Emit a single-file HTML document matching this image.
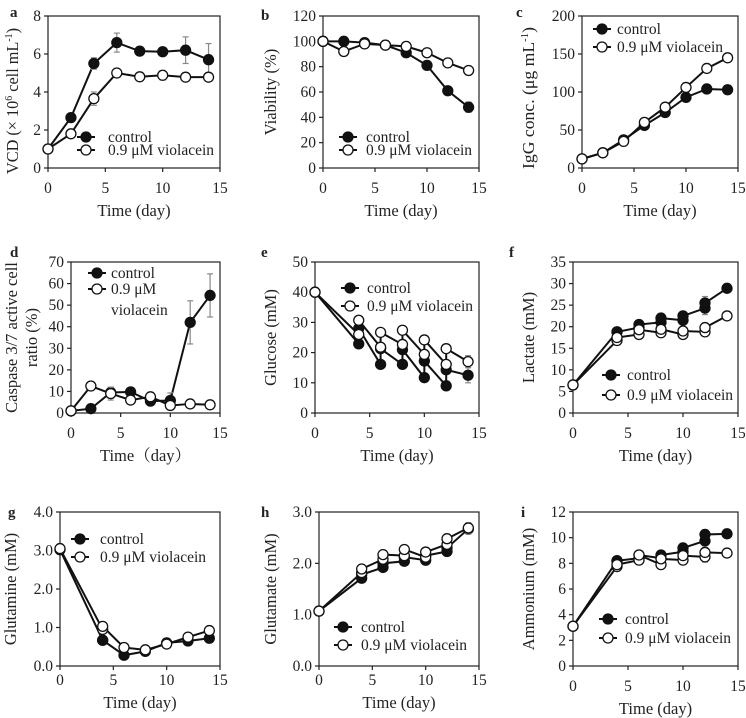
<!DOCTYPE html>
<html><head><meta charset="utf-8"><style>
html,body{margin:0;padding:0;background:#fff}
svg{display:block;font-family:"Liberation Serif",serif}
</style></head><body>
<svg id="fig" width="746" height="718" viewBox="0 0 746 718" xmlns="http://www.w3.org/2000/svg"></svg>
<script>
const days = [0,2,4,6,8,10,12,14];
const a_ctrl = [1,2.65,5.5,6.6,6.15,6.12,6.2,5.7];
const a_ctrlErr = [0,0,0.3,0.5,0,0,0.7,0.85];
const a_viol = [1,1.8,3.65,5.0,4.8,4.88,4.78,4.78];
const a_violErr = [0,0,0.35,0.12,0,0.25,0.1,0.2];
const b_ctrl = [100,100,99,97,91,81,61,48];
const b_ctrlErr = [0,0,0,0,0,0,0,4];
const b_viol = [100,92,98,97,96,91,83,77];
const b_violErr = [0,0,0,0,0,0,0,0];
const c_ctrl = [12,20,37,56,73,93,104,103];
const c_ctrlErr = [0,0,0,0,0,0,0,5];
const c_viol = [12,20,35,60,80,106,131,145];
const c_violErr = [0,0,0,0,0,0,0,5];
const d_ctrl = [1,2,9.5,9.8,5.5,5.8,42,54.5];
const d_ctrlErr = [0,0,0,0,1.5,3.5,10,10];
const d_viol = [1,12.5,9,6,7.5,3.5,4.2,3.8];
const d_violErr = [0,0,3,0,0,0,0,0];
const feedDays = [0,4,4,6,6,8,8,10,10,12,12,14];
const e_ctrl = [40,22.9,28,16.1,21.3,16.1,21,11.7,17.2,9,14.3,12.5];
const e_ctrlErr = [0,0,0,0,0,0,0,0,0,0,0,2.5];
const e_viol = [40,26,30.7,21.8,26.7,22.7,27.4,19.4,24.2,16.1,21.3,17];
const e_violErr = [0,0,0,0,0,0,0,0,0,0,0,2];
const f_ctrl = [6.5,18.8,18.8,19.8,20.5,21,22,21.5,22.5,24.3,25.5,28.9];
const f_ctrlErr = [0,0,0,0,0,0,0,0,0,1.5,1.5,0];
const f_viol = [6.5,16.8,17.5,18.2,19.3,18.6,19.4,18.2,19,18.8,19.8,22.5];
const f_violErr = [0,0,0,0,0,0,0,0,0,0,0,0];
const g_days = [0,4,4,6,8,10,12,14];
const g_ctrl = [3.02,0.67,0.67,0.28,0.38,0.6,0.65,0.72];
const g_viol = [3.05,0.95,1.03,0.48,0.42,0.57,0.75,0.92];
const g_ctrlErr = [0,0,0,0,0,0,0,0];
const g_violErr = [0,0,0,0,0,0,0,0];
const h_ctrl = [1.07,1.71,1.78,1.92,2.0,2.04,2.12,2.06,2.15,2.23,2.3,2.67];
const h_viol = [1.07,1.82,1.89,2.08,2.17,2.15,2.27,2.12,2.22,2.37,2.48,2.69];
const h_ctrlErr = [0,0,0,0,0,0,0,0,0,0,0,0.1];
const h_violErr = [0,0,0,0,0,0,0,0,0,0,0,0.1];
const i_ctrl = [3.1,8.2,8.2,8.4,8.65,8.4,8.65,8.9,9.2,9.75,10.25,10.3];
const i_viol = [3.1,7.75,7.9,8.25,8.65,7.9,8.35,8.25,8.6,8.5,8.85,8.8];
const i_ctrlErr = [0,0,0,0,0,0,0,0,0.3,0.5,0,0];
const i_violErr = [0,0,0,0,0,0,0,0,0,0.4,0,0];
const xTicks = [0,5,10,15];

const NS = "http://www.w3.org/2000/svg";
const svg = document.getElementById('fig');
function mk(tag, attrs, parent){const e=document.createElementNS(NS,tag);for(const k in attrs)e.setAttribute(k,attrs[k]);(parent||svg).appendChild(e);return e;}

const panels = [
 {id:'a',x0:48,x1:220,yT:16,yB:168,ymax:8,ystep:2,dec:0,xs:days,c:a_ctrl,ce:a_ctrlErr,v:a_viol,ve:a_violErr,lx:86,ly:[137,150],ltx:108,lab:[10,17],yl:['VCD'],ylx:13,tl:25,tlen:146,cyOff:9},
 {id:'b',x0:323,x1:479,yT:16,yB:168,ymax:120,ystep:20,dec:0,xs:days,c:b_ctrl,ce:b_ctrlErr,v:b_viol,ve:b_violErr,lx:348,ly:[137,150],ltx:366,lab:[261,20],yl:['Viability (%)'],ylx:271,tl:25},
 {id:'c',x0:582,x1:738,yT:16,yB:168,ymax:200,ystep:50,dec:0,xs:days,c:c_ctrl,ce:c_ctrlErr,v:c_viol,ve:c_violErr,lx:602,ly:[29,47],ltx:617,lab:[516,17],yl:['IgG'],ylx:529,tl:25,tlen:142,cyOff:6},
 {id:'d',x0:71,x1:220,yT:262,yB:413,ymax:70,ystep:10,dec:0,xs:days,c:d_ctrl,ce:d_ctrlErr,v:d_viol,ve:d_violErr,lx:97,ly:[273,289],ltx:111,lab:[10,257],yl:['Caspase 3/7 active cell','ratio (%)'],ylx:12,tl:25,third:'violacein',vlabel:'0.9 \u03bcM'},
 {id:'e',x0:315,x1:479,yT:262,yB:413,ymax:50,ystep:10,dec:0,xs:feedDays,c:e_ctrl,ce:e_ctrlErr,v:e_viol,ve:e_violErr,lx:350,ly:[288,306],ltx:367,lab:[261,257],yl:['Glucose (mM)'],ylx:271,tl:25},
 {id:'f',x0:573,x1:738,yT:262,yB:413,ymax:35,ystep:5,dec:0,xs:feedDays,c:f_ctrl,ce:f_ctrlErr,v:f_viol,ve:f_violErr,lx:611,ly:[375,395],ltx:627,lab:[509,257],yl:['Lactate (mM)'],ylx:529,tl:25},
 {id:'g',x0:60,x1:220,yT:512,yB:666,ymax:4,ystep:1,dec:1,xs:g_days,c:g_ctrl,ce:g_ctrlErr,v:g_viol,ve:g_violErr,lx:80,ly:[539,557],ltx:100,lab:[8,517],yl:['Glutamine (mM)'],ylx:11,tl:19},
 {id:'h',x0:319,x1:479,yT:512,yB:666,ymax:3,ystep:1,dec:1,xs:feedDays,c:h_ctrl,ce:h_ctrlErr,v:h_viol,ve:h_violErr,lx:343,ly:[627,645],ltx:361,lab:[261,517],yl:['Glutamate (mM)'],ylx:271,tl:19},
 {id:'i',x0:573,x1:738,yT:512,yB:666,ymax:12,ystep:2,dec:0,xs:feedDays,c:i_ctrl,ce:i_ctrlErr,v:i_viol,ve:i_violErr,lx:608,ly:[619,638],ltx:625,lab:[521,517],yl:['Ammonium (mM)'],ylx:529,tl:25},
];

panels.forEach(p=>{
  const g = mk('g',{});
  
  
  const X = d => p.x0 + d/15*(p.x1-p.x0);
  const Y = v => p.yB - v/p.ymax*(p.yB-p.yT);
  const frame = mk('rect',{x:p.x0,y:p.yT,width:p.x1-p.x0,height:p.yB-p.yT,fill:'none',stroke:'#222','stroke-width':1.2},g);
  
  
  xTicks.forEach(t=>{
    mk('line',{x1:X(t),x2:X(t),y1:p.yB,y2:p.yB+4,stroke:'#222','stroke-width':1.2},g);
    const tx = mk('text',{x:X(t),y:p.yB+p.tl,'font-size':15.5,'text-anchor':'middle',fill:'#222'},g);
    tx.textContent=t;
    
    
  });
  for(let v=0; v<=p.ymax+1e-9; v+=p.ystep){
    mk('line',{x1:p.x0-4,x2:p.x0,y1:Y(v),y2:Y(v),stroke:'#222','stroke-width':1.2},g);
    const ty = mk('text',{x:p.x0-7,y:Y(v)+5,'font-size':15.5,'text-anchor':'end',fill:'#222'},g);
    ty.textContent=v.toFixed(p.dec);
    
    
  }
  const xt = mk('text',{x:(p.x0+p.x1)/2,y:p.yB+p.tl+23,'font-size':16.5,'text-anchor':'middle',fill:'#222'},g);
  xt.textContent = p.id==='d' ? 'Time\uff08day\uff09' : 'Time (day)';
  
  
  if(p.id==='d') xt.setAttribute('font-family','"Liberation Serif","Noto Serif CJK SC",serif');
  const cy=(p.yT+p.yB)/2 + (p.cyOff||0);
  p.yl.forEach((line,k)=>{
    const yx = p.ylx + k*20;
    const attrs = {x:yx,y:cy,'font-size':16.5,'text-anchor':'middle',fill:'#222',transform:`rotate(-90 ${yx} ${cy})`,dy:5};
    const yt = mk('text',attrs,g);
    
    
    if(p.id==='a'){
      yt.innerHTML='VCD (\u00d7 10<tspan dy="-6" font-size="10">6</tspan><tspan dy="6"> cell mL</tspan><tspan dy="-6" font-size="10">-1</tspan><tspan dy="6">)</tspan>';
    } else if(p.id==='c'){
      yt.innerHTML='IgG conc. (\u03bcg mL<tspan dy="-6" font-size="10">-1</tspan><tspan dy="6">)</tspan>';
    } else yt.textContent=line;
    if(p.tlen){yt.setAttribute('textLength',p.tlen);yt.setAttribute('lengthAdjust','spacingAndGlyphs');}
  });
  const lab = mk('text',{x:p.lab[0],y:p.lab[1],'font-size':15,'font-weight':'bold',fill:'#222'},g);
  lab.textContent=p.id;
  
  

  function series(vals, errs, filled, name){
    const sg = mk('g',{},g);
    
    
    const pts = vals.map((v,i)=>X(p.xs[i])+','+Y(v)).join(' ');
    mk('polyline',{points:pts,fill:'none',stroke:'#111','stroke-width':2},sg);
    vals.forEach((v,i)=>{
      const e = errs[i]; if(!e) return;
      const x=X(p.xs[i]);
      mk('line',{x1:x,x2:x,y1:Y(v+e),y2:Y(Math.max(0,v-e)),stroke:'#888','stroke-width':1.2},sg);
      mk('line',{x1:x-3,x2:x+3,y1:Y(v+e),y2:Y(v+e),stroke:'#888','stroke-width':1.2},sg);
      mk('line',{x1:x-3,x2:x+3,y1:Y(Math.max(0,v-e)),y2:Y(Math.max(0,v-e)),stroke:'#888','stroke-width':1.2},sg);
    });
    vals.forEach((v,i)=>{
      const c = mk('circle',{cx:X(p.xs[i]),cy:Y(v),r:5,fill:filled?'#111':'#fff',stroke:'#111','stroke-width':1.3},sg);
      
      
    });
  }
  series(p.c,p.ce,true,'series-control');
  series(p.v,p.ve,false,'series-violacein');

  [[true,'control'],[false,p.vlabel||'0.9 \u03bcM violacein']].forEach(([f,txt],k)=>{
    const lg = mk('g',{},g);
    
    
    const y=p.ly[k];
    mk('line',{x1:p.lx-9,x2:p.lx+9,y1:y,y2:y,stroke:'#111','stroke-width':2},lg);
    mk('circle',{cx:p.lx,cy:y,r:5,fill:f?'#111':'#fff',stroke:'#111','stroke-width':1.3},lg);
    const t=mk('text',{x:p.ltx,y:y+5,'font-size':15.5,fill:'#222'},lg);
    t.textContent=txt;
  });
  if(p.third){
    const t=mk('text',{x:p.ltx,y:p.ly[1]+26,'font-size':15.5,fill:'#222'},g);
    t.textContent=p.third;
    
    
  }
});
</script>
</body></html>
